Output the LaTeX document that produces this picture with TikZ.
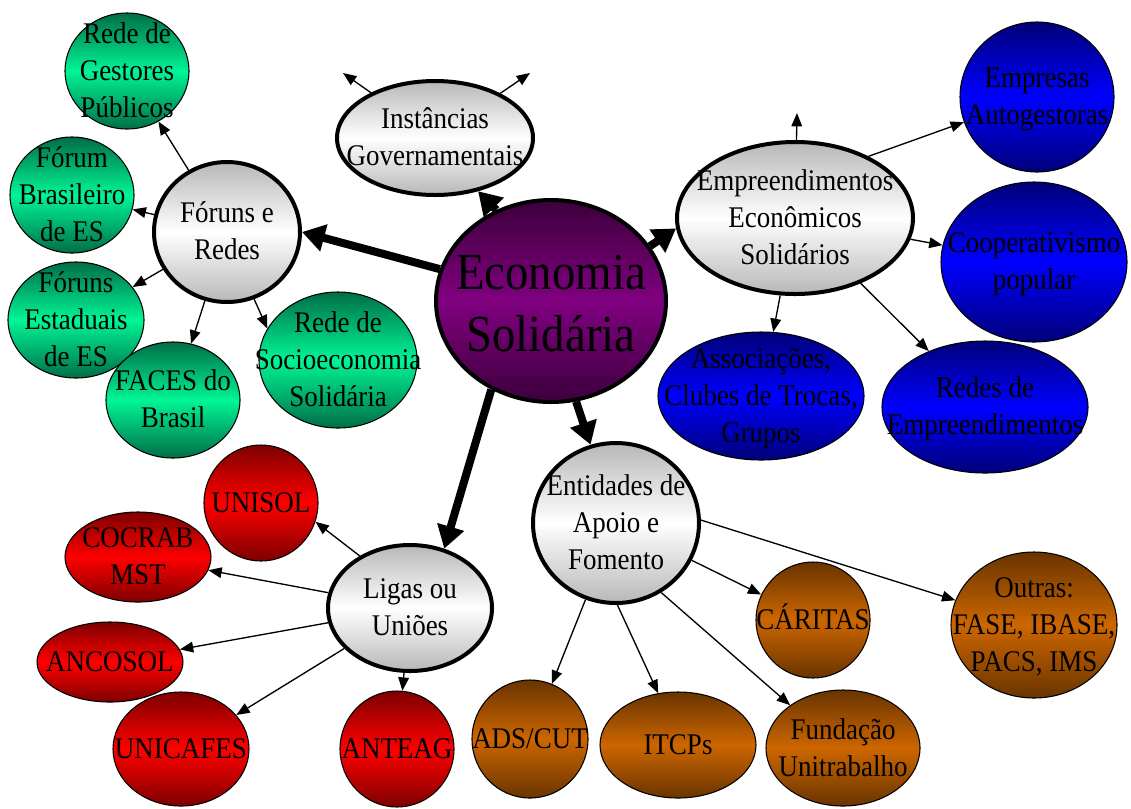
\documentclass[tikz,border=0pt]{standalone}
\usepackage{fontspec}
\setmainfont{Liberation Serif}[FakeStretch=0.9]
\usetikzlibrary{shapes.geometric, arrows.meta}

\definecolor{esPurple}{RGB}{128,0,128}
\definecolor{esPurpleDark}{RGB}{60,0,60}
\definecolor{esGreen}{RGB}{0,245,150}
\definecolor{esGreenDark}{RGB}{0,110,70}
\definecolor{esBlue}{RGB}{0,0,255}
\definecolor{esBlueDark}{RGB}{0,0,120}
\definecolor{esRed}{RGB}{255,0,0}
\definecolor{esRedDark}{RGB}{125,0,0}
\definecolor{esBrown}{RGB}{205,102,0}
\definecolor{esBrownDark}{RGB}{105,52,0}

% text that does not make the ellipse grow
\newcommand{\inbox}[1]{\makebox[0pt]{\smash{\raisebox{-.3em}{\begin{tabular}{@{}c@{}}#1\end{tabular}}}}}

\begin{document}
\begin{tikzpicture}[x=0.75pt, y=-0.75pt,
    bubble/.style={ellipse, draw, inner sep=0pt, font=\fontsize{22.5}{27.75}\selectfont},
    hub/.style={bubble, line width=3pt, top color=black!28, bottom color=black!28, middle color=white},
    leaf/.style={bubble, line width=0.8pt},
    forum/.style={leaf, top color=esGreenDark, bottom color=esGreenDark, middle color=esGreen},
    firm/.style={leaf, top color=esBlueDark, bottom color=esBlueDark, middle color=esBlue},
    league/.style={leaf, top color=esRedDark, bottom color=esRedDark, middle color=esRed},
    support/.style={leaf, top color=esBrownDark, bottom color=esBrownDark, middle color=esBrown},
    arr/.style={-{Triangle[length=10pt,width=8pt]}, line width=1pt},
    bigarr/.style={-{Triangle[length=17pt,width=20pt]}, line width=6pt}
  ]
    \useasboundingbox (0,0) rectangle (1131,808);

    \node[bubble, line width=3pt, top color=esPurpleDark, bottom color=esPurpleDark, middle color=esPurple,
          minimum width=172.5pt, minimum height=151.5pt, font=\fontsize{39}{46.5}\selectfont]
      (econ) at (551,301) {\inbox{Economia\\Solidária}};

    \node[hub, minimum width=147pt, minimum height=85.5pt] (inst) at (435,138) {\inbox{Instâncias\\Governamentais}};
    \node[hub, minimum width=177pt, minimum height=114pt] (empr) at (795,218) {\inbox{Empreendimentos\\Econômicos\\Solidários}};
    \node[hub, minimum width=109.5pt, minimum height=105pt] (foruns) at (227,232) {\inbox{Fóruns e\\Redes}};
    \node[hub, minimum width=123pt, minimum height=94.5pt] (ligas) at (410,608) {\inbox{Ligas ou\\Uniões}};
    \node[hub, minimum width=124.5pt, minimum height=120pt] (entid) at (616,523) {\inbox{Entidades de\\Apoio e\\Fomento}};

    \node[forum, minimum width=93pt, minimum height=87pt] (gestores) at (127,71) {\inbox{Rede de\\Gestores\\Públicos}};
    \node[forum, minimum width=93pt, minimum height=87pt] (fbes) at (72,195) {\inbox{Fórum\\Brasileiro\\de ES}};
    \node[forum, minimum width=102pt, minimum height=87pt] (estaduais) at (76,320) {\inbox{Fóruns\\Estaduais\\de ES}};
    \node[forum, minimum width=100.5pt, minimum height=87pt] (faces) at (173,400) {\inbox{FACES do\\Brasil}};
    \node[forum, minimum width=118.5pt, minimum height=102pt] (socio) at (338,360) {\inbox{Rede de\\Socioeconomia\\Solidária}};

    \node[firm, minimum width=115.5pt, minimum height=112.5pt] (empresas) at (1037,97) {\inbox{Empresas\\Autogestoras}};
    \node[firm, minimum width=139.5pt, minimum height=120pt] (coop) at (1034,262) {\inbox{Cooperativismo\\popular}};
    \node[firm, minimum width=154.5pt, minimum height=99pt] (redesEmpr) at (985,407) {\inbox{Redes de\\Empreendimentos}};
    \node[firm, minimum width=154.5pt, minimum height=96pt] (assoc) at (761,396) {\inbox{Associações,\\Clubes de Trocas,\\Grupos}};

    \node[league, minimum width=85.5pt, minimum height=87pt] (unisol) at (261,503) {\inbox{UNISOL}};
    \node[league, minimum width=109.5pt, minimum height=67.5pt] (cocrab) at (138,557) {\inbox{COCRAB\\MST}};
    \node[league, minimum width=109.5pt, minimum height=60pt] (ancosol) at (110,662) {\inbox{ANCOSOL}};
    \node[league, minimum width=102pt, minimum height=85.5pt] (unicafes) at (181,749) {\inbox{UNICAFES}};
    \node[league, minimum width=85.5pt, minimum height=87pt] (anteag) at (397,749) {\inbox{ANTEAG}};

    \node[support, minimum width=87pt, minimum height=88.5pt] (ads) at (530,739) {\inbox{ADS/CUT}};
    \node[support, minimum width=117pt, minimum height=79.5pt] (itcps) at (678,745) {\inbox{ITCPs}};
    \node[support, minimum width=115.5pt, minimum height=87pt] (fundacao) at (843,748) {\inbox{Fundação\\Unitrabalho}};
    \node[support, minimum width=85.5pt, minimum height=87pt] (caritas) at (813,620) {\inbox{CÁRITAS}};
    \node[support, minimum width=124.5pt, minimum height=109.5pt] (outras) at (1034,625) {\inbox{Outras:\\FASE, IBASE,\\PACS, IMS}};

    % loose ends
    \coordinate (instL) at (343,73);
    \coordinate (instR) at (530,73);
    \coordinate (emprUp) at (797,113);

    \draw[bigarr] (econ.164) -- (foruns.east);
    \draw[bigarr] (econ.121) -- (inst.309);
    \draw[bigarr] (econ.29) -- (empr.185);
    \draw[bigarr] (econ.236) -- (ligas.60);
    \draw[bigarr] (econ.284) -- (entid.108);

    \draw[arr] (inst) -- (instL);
    \draw[arr] (inst) -- (instR);

    \draw[arr] (empr) -- (emprUp);
    \draw[arr] (empr.40) -- (empresas.199);
    \draw[arr] (empr) -- (coop);
    \draw[arr] (empr) -- (redesEmpr);
    \draw[arr] (empr) -- (assoc);

    \draw[arr] (foruns) -- (gestores);
    \draw[arr] (foruns) -- (fbes);
    \draw[arr] (foruns) -- (estaduais);
    \draw[arr] (foruns) -- (faces);
    \draw[arr] (foruns.292) -- (socio.156);

    \draw[arr] (ligas.134) -- (unisol.341);
    \draw[arr] (ligas) -- (cocrab);
    \draw[arr] (ligas) -- (ancosol);
    \draw[arr] (ligas) -- (unicafes);
    \draw[arr] (ligas) -- (anteag);

    \draw[arr] (entid) -- (ads);
    \draw[arr] (entid.271) -- (itcps.111);
    \draw[arr] (entid.303) -- (fundacao.141);
    \draw[arr] (entid) -- (caritas);
    \draw[arr] (entid.2) -- (outras);
\end{tikzpicture}
\end{document}
